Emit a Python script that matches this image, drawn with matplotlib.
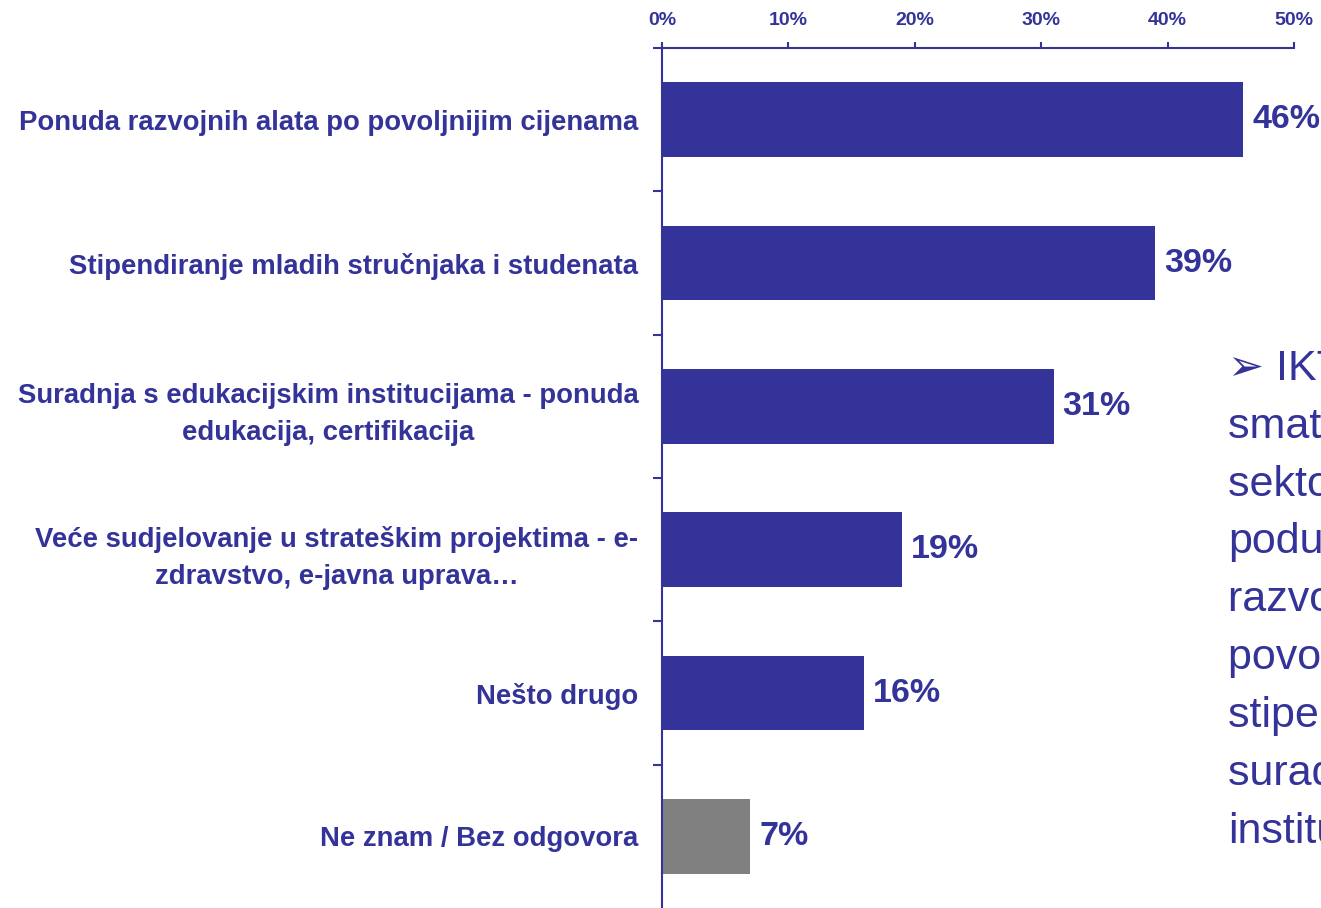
import matplotlib
matplotlib.use("Agg")
import matplotlib.pyplot as plt
from matplotlib.ticker import FixedLocator

plt.rcParams['font.family'] = ['Liberation Sans', 'DejaVu Sans']

categories = [
    "Ponuda razvojnih alata po povoljnijim cijenama",
    "Stipendiranje mladih stručnjaka i studenata",
    "Suradnja s edukacijskim institucijama - ponuda\nedukacija, certifikacija",
    "Veće sudjelovanje u strateškim projektima - e-\nzdravstvo, e-javna uprava…",
    "Nešto drugo",
    "Ne znam / Bez odgovora",
]
values = [46, 39, 31, 19, 16, 7]
bar_colors = ["#333399", "#333399", "#333399", "#333399", "#333399", "#808080"]
tick_values = [0, 10, 20, 30, 40, 50]
side_lines = ["➢ IKT tvrtke", "smatraju da bi", "sektor trebao", "poduzetnicima",
              "razvojnih alata po", "povoljnijim cijenama,", "stipendiranje i",
              "suradnju s edukacijskim", "institucijama"]

navy = "#333399"

fig = plt.figure(figsize=(13.21, 9.08), dpi=100)
ax = fig.add_axes([662 / 1321, 0.0, (1294 - 662) / 1321, 860 / 908])

ypos = list(range(len(categories)))
ax.barh(ypos, values, height=0.52, color=bar_colors)

for y, v in zip(ypos, values):
    ax.text(v + 0.7, y, f"{v}%", va="center", ha="left", fontsize=24.5,
            fontweight="bold", color=navy)

ax.set_xlim(0, 50)
ax.set_ylim(5.5, -0.5)

ax.xaxis.tick_top()
ax.set_xticks(tick_values)
ax.set_xticklabels([f"{t}%" for t in tick_values], fontsize=14,
                   fontweight="bold", color=navy)
ax.tick_params(axis="x", direction="out", length=4.5, width=1.5, color=navy, pad=9)

ax.set_yticks(ypos)
ax.set_yticklabels(categories, fontsize=19.8, fontweight="bold", color=navy,
                   linespacing=1.55)
for lbl in ax.get_yticklabels():
    lbl.set_multialignment("center")
ax.tick_params(axis="y", which="major", length=0, pad=17)
ax.yaxis.set_minor_locator(FixedLocator([i - 0.5 for i in range(6)]))
ax.tick_params(axis="y", which="minor", length=6.5, width=1.5, color=navy)

for side in ["right", "bottom"]:
    ax.spines[side].set_visible(False)
for side in ["left", "top"]:
    ax.spines[side].set_color(navy)
    ax.spines[side].set_linewidth(1.5)

# side note, cut off by the right edge as in the original slide
fig.text(1228 / 1321, 1 - 349 / 908, "\n".join(side_lines), fontsize=31,
         color=navy, ha="left", va="top", linespacing=1.575)

fig.savefig("out.png", dpi=100)
